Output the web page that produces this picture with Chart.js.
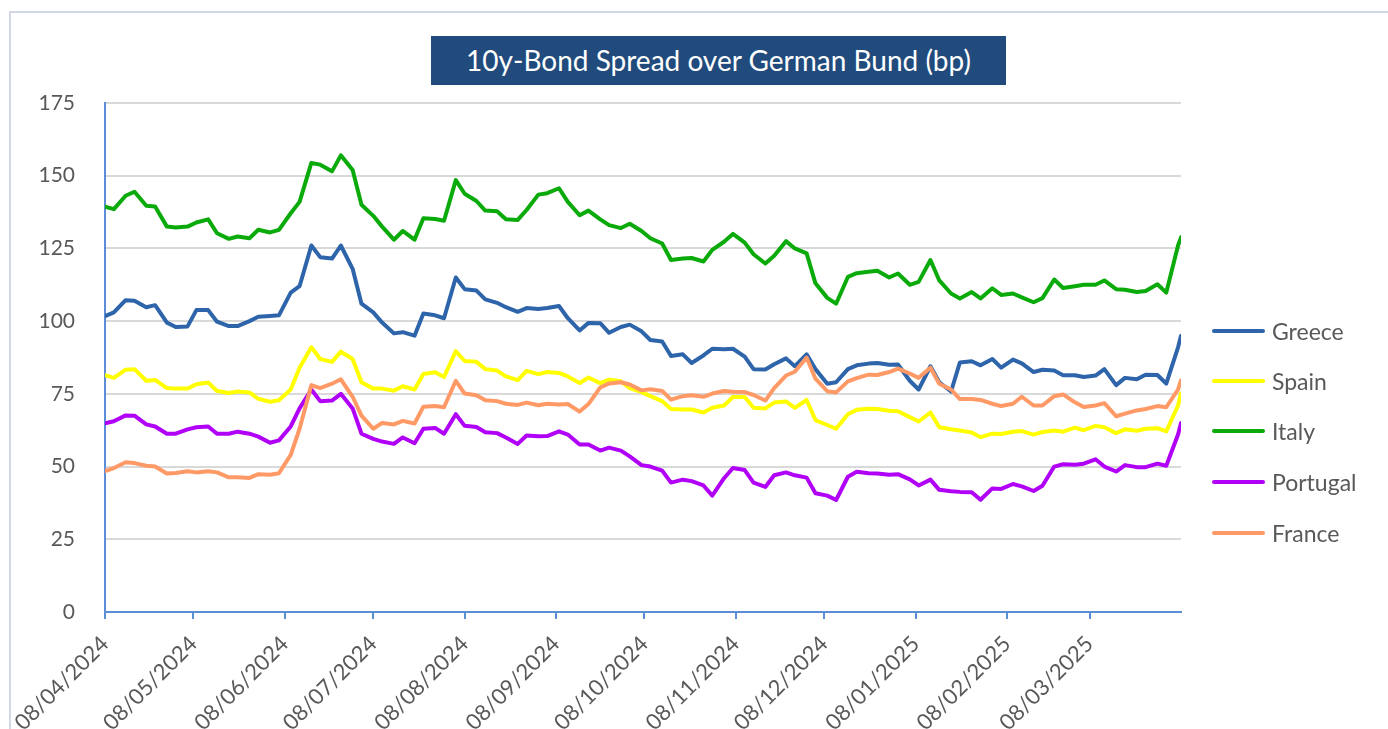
<!DOCTYPE html>
<html lang="en">
<head>
  <meta charset="utf-8">
  <title>10y-Bond Spread over German Bund (bp)</title>
  <script src="https://cdn.jsdelivr.net/npm/chart.js@4.4.1/dist/chart.umd.min.js"></script>
  <style>
    html, body { margin: 0; padding: 0; background: #fff; overflow: hidden; }
    body { width: 1388px; height: 729px; position: relative; font-family: Lato, "Open Sans", sans-serif; }
    #frame { position: absolute; left: 9px; top: 11px; width: 1500px; height: 800px; border: 2px solid #d3d7e6; }
    #chart { position: absolute; left: 0; top: 0; }
    #title { position: absolute; left: 431px; top: 36px; width: 575px; height: 49px; line-height: 49px;
             background: #214b7c; color: #fff; font-size: 28px; text-align: center; }
    .legend-item { position: absolute; left: 1212px; width: 170px; height: 30px; }
    .legend-item .swatch { position: absolute; left: 0; top: 13px; width: 53px; height: 4px; border-radius: 2px; }
    .legend-item .label { position: absolute; left: 60px; top: 0; line-height: 30px; font-size: 23px; color: #595959; white-space: nowrap; }
  </style>
</head>
<body>
  <div id="frame"></div>
  <canvas id="chart" width="1388" height="729"></canvas>
  <div id="title">10y-Bond Spread over German Bund (bp)</div>
  <div id="legend"></div>

  <script>
    // observation dates (Mondays and Thursdays, plus the last day)
    const dates = [
      '2024-04-08','2024-04-11','2024-04-15','2024-04-18','2024-04-22','2024-04-25','2024-04-29','2024-05-02','2024-05-06','2024-05-09',
      '2024-05-13','2024-05-16','2024-05-20','2024-05-23','2024-05-27','2024-05-30','2024-06-03','2024-06-06','2024-06-10','2024-06-13',
      '2024-06-17','2024-06-20','2024-06-24','2024-06-27','2024-07-01','2024-07-04','2024-07-08',
      '2024-07-11','2024-07-15','2024-07-18','2024-07-22','2024-07-25','2024-07-29','2024-08-01','2024-08-05','2024-08-08','2024-08-12',
      '2024-08-15','2024-08-19','2024-08-22','2024-08-26','2024-08-29','2024-09-02','2024-09-05','2024-09-09','2024-09-12','2024-09-16',
      '2024-09-19','2024-09-23','2024-09-26','2024-09-30','2024-10-03','2024-10-07',
      '2024-10-10','2024-10-14','2024-10-17','2024-10-21','2024-10-24','2024-10-28','2024-10-31','2024-11-04','2024-11-07','2024-11-11',
      '2024-11-14','2024-11-18','2024-11-21','2024-11-25','2024-11-28','2024-12-02','2024-12-05','2024-12-09','2024-12-12','2024-12-16',
      '2024-12-19','2024-12-23','2024-12-26','2024-12-30','2025-01-02','2025-01-06','2025-01-09',
      '2025-01-13','2025-01-16','2025-01-20','2025-01-23','2025-01-27','2025-01-30','2025-02-03','2025-02-06','2025-02-10','2025-02-13',
      '2025-02-17','2025-02-20','2025-02-24','2025-02-27','2025-03-03','2025-03-06','2025-03-10','2025-03-13','2025-03-17','2025-03-20',
      '2025-03-24','2025-03-27','2025-03-31','2025-04-03','2025-04-07','2025-04-08'
    ];

    const greece = [
      101.7, 103, 107.2, 107, 104.8, 105.5, 99.5, 98, 98.2, 103.8, 103.8, 99.8, 98.3, 98.3, 100, 101.5, 101.8, 102, 109.8, 112,
      126, 122, 121.5, 126, 118, 106, 103,
      99.5, 95.8, 96.2, 95, 102.6, 102, 101, 115, 111, 110.5, 107.5, 106.3, 104.8, 103.2, 104.5, 104.2, 104.5, 105.2, 101,
      96.8, 99.4, 99.3, 96, 98, 98.8, 96.5,
      93.5, 93, 88, 88.6, 85.6, 88.2, 90.5, 90.3, 90.5, 87.8, 83.5, 83.4, 85.2, 87.2, 84.5, 88.6, 83.5, 78.5, 79, 83.5,
      84.8, 85.4, 85.6, 85, 85.1, 79.5, 76.5,
      84.5, 79, 75.8, 85.8, 86.2, 84.8, 87, 84, 86.8, 85.5, 82.5, 83.3, 83, 81.4, 81.4, 80.8, 81.3, 83.5, 78, 80.5,
      80, 81.6, 81.5, 78.5, 91, 95
    ];
    const spain = [
      81.4, 80.5, 83.3, 83.5, 79.5, 79.8, 77, 76.8, 76.8, 78.3, 78.9, 76, 75.3, 75.8, 75.5, 73.3, 72.3, 72.8, 76.5, 84,
      91, 87, 86, 89.5, 87, 79, 76.8,
      76.8, 76.1, 77.6, 76.5, 81.8, 82.4, 80.8, 89.7, 86.3, 86, 83.5, 83, 81, 79.7, 82.9, 81.8, 82.5, 82.2, 81,
      78.7, 80.6, 78.7, 79.9, 79.3, 77, 75.6,
      74.2, 72.5, 69.8, 69.6, 69.6, 68.6, 70.2, 71, 73.9, 73.9, 70.2, 70, 72, 72.4, 70.2, 72.9, 66, 64.3, 63, 68,
      69.5, 69.9, 69.8, 69.2, 69, 67, 65.5,
      68.6, 63.5, 62.8, 62.4, 61.7, 60.1, 61.3, 61.2, 62, 62.2, 61, 61.9, 62.4, 62, 63.4, 62.5, 64, 63.5, 61.5, 62.8,
      62.3, 63, 63.2, 62.1, 71, 75.2
    ];
    const italy = [
      139.4, 138.5, 143.1, 144.5, 139.7, 139.4, 132.5, 132.2, 132.5, 133.9, 135, 130.2, 128.3, 129.1, 128.5, 131.4, 130.5, 131.4, 137.1, 141,
      154.4, 153.8, 151.5, 157, 152, 140, 136.2,
      132.5, 128, 131, 128, 135.4, 135.1, 134.5, 148.5, 143.8, 141.3, 138, 137.8, 135, 134.8, 138.2, 143.5, 144, 145.7, 141,
      136.4, 138, 135, 133, 132, 133.5, 131,
      128.5, 126.7, 121, 121.5, 121.7, 120.5, 124.5, 127.3, 130, 127, 123, 119.8, 122.5, 127.5, 125, 123.3, 113, 108, 106, 115.2,
      116.5, 117, 117.3, 115, 116.4, 112.5, 113.5,
      121, 114, 109.5, 107.8, 110, 107.8, 111.3, 109, 109.5, 108.2, 106.5, 107.9, 114.3, 111.4, 112, 112.5, 112.5, 114, 111, 110.8,
      110, 110.4, 112.7, 109.8, 126, 128.8
    ];
    const portugal = [
      64.9, 65.6, 67.6, 67.5, 64.5, 63.8, 61.3, 61.3, 62.8, 63.5, 63.8, 61.3, 61.3, 62, 61.3, 60.3, 58.2, 59, 63.8, 70,
      76.5, 72.5, 72.7, 75, 70, 61.3, 59.5,
      58.6, 57.8, 60, 58, 63, 63.3, 61.3, 68, 64, 63.6, 61.8, 61.5, 60, 57.8, 60.7, 60.4, 60.5, 62.1, 61,
      57.6, 57.6, 55.5, 56.5, 55.5, 53.5, 50.5,
      50, 48.6, 44.5, 45.5, 45, 43.5, 40, 46, 49.5, 48.8, 44.5, 43, 47, 48, 47, 46.2, 40.8, 40, 38.5, 46.5,
      48.2, 47.7, 47.6, 47.2, 47.4, 45.6, 43.5,
      45.5, 42, 41.5, 41.3, 41.2, 38.6, 42.5, 42.3, 44, 43.2, 41.6, 43.4, 50, 50.8, 50.6, 51, 52.5, 50, 48.3, 50.5,
      49.8, 49.8, 51, 50.3, 61, 65
    ];
    const france = [
      48.4, 49.5, 51.5, 51.2, 50.3, 50, 47.6, 47.8, 48.4, 48, 48.4, 48, 46.3, 46.3, 46.1, 47.4, 47.2, 47.7, 54, 63,
      78, 77, 78.5, 80, 74, 67.5, 63,
      65, 64.5, 65.7, 64.8, 70.6, 70.8, 70.4, 79.5, 75.1, 74.5, 72.8, 72.5, 71.6, 71.2, 72, 71.1, 71.6, 71.3, 71.5,
      68.9, 71.5, 77.2, 78.6, 79, 78.2, 76.2,
      76.6, 76, 73, 74.2, 74.5, 74, 75.1, 76, 75.7, 75.6, 74.6, 72.7, 77, 81.3, 82.6, 87.5, 80.2, 75.9, 75.5, 79.3,
      80.4, 81.6, 81.5, 82.5, 83.7, 82, 80.5,
      84, 78.5, 76.5, 73.2, 73.2, 72.9, 71.6, 70.8, 71.6, 74, 71, 71, 74.2, 74.8, 72.1, 70.5, 71, 71.8, 67.3, 68.2,
      69.3, 69.8, 70.8, 70.4, 76.5, 79.6
    ];

    const seriesNames = ['Greece', 'Spain', 'Italy', 'Portugal', 'France'];
    const seriesColors = ['#2e64aa', '#ffff00', '#0aaa0a', '#b000f8', '#ff9966'];
    const tickLabels = ['08/04/2024', '08/05/2024', '08/06/2024', '08/07/2024', '08/08/2024', '08/09/2024',
                        '08/10/2024', '08/11/2024', '08/12/2024', '08/01/2025', '08/02/2025', '08/03/2025'];

    const axisBlue = '#5b8ed6';
    const textGrey = '#595959';
    const DAY = 86400000;
    const start = Date.parse(dates[0]);
    const toDay = s => Math.round((Date.parse(s) - start) / DAY);
    const tickDays = tickLabels.map(l => { const p = l.split('/'); return toDay(p[2] + '-' + p[1] + '-' + p[0]); });

    const values = [greece, spain, italy, portugal, france];
    const datasets = seriesNames.map((name, i) => ({
      label: name,
      data: dates.map((d, j) => ({ x: toDay(d), y: values[i][j] })),
      borderColor: seriesColors[i],
      backgroundColor: seriesColors[i],
      borderWidth: 4,
      pointRadius: 0,
      tension: 0,
      borderJoinStyle: 'round',
      borderCapStyle: 'round',
      order: seriesNames.length - i   // France drawn on top, as in Excel
    }));

    new Chart(document.getElementById('chart'), {
      type: 'line',
      data: { datasets: datasets },
      options: {
        responsive: false,
        animation: false,
        layout: { padding: { left: 10, top: 103, right: 207, bottom: 0 } },
        plugins: { legend: { display: false }, tooltip: { enabled: false } },
        scales: {
          x: {
            type: 'linear',
            min: 0,
            max: toDay(dates[dates.length - 1]),
            afterBuildTicks: s => { s.ticks = tickDays.map(v => ({ value: v })); },
            afterFit: s => { s.height = 117; },
            grid: { drawOnChartArea: false, drawTicks: true, tickLength: 7, color: axisBlue, lineWidth: 2 },
            border: { display: true, color: axisBlue, width: 2 },
            ticks: {
              autoSkip: false,
              minRotation: 45,
              maxRotation: 45,
              padding: 12,
              color: textGrey,
              font: { family: 'Lato', size: 22 },
              callback: (v, i) => tickLabels[i]
            }
          },
          y: {
            min: 0,
            max: 175,
            afterFit: s => { s.width = 95; },
            grid: {
              drawTicks: false,
              lineWidth: 2,
              color: c => c.tick.value === 0 ? 'rgba(0,0,0,0)' : '#d9d9d9'
            },
            border: { display: true, color: axisBlue, width: 2 },
            ticks: {
              stepSize: 25,
              padding: 30,
              color: textGrey,
              font: { family: 'Lato', size: 21 }
            }
          }
        }
      }
    });

    // legend on the right, same order as Excel
    const legendTops = [331, 381, 431, 482, 533];
    const legend = document.getElementById('legend');
    seriesNames.forEach((name, i) => {
      const item = document.createElement('div');
      item.className = 'legend-item';
      item.style.top = (legendTops[i] - 15) + 'px';
      item.innerHTML = '<div class="swatch" style="background:' + seriesColors[i] + '"></div><span class="label">' + name + '</span>';
      legend.appendChild(item);
    });
  </script>
</body>
</html>
